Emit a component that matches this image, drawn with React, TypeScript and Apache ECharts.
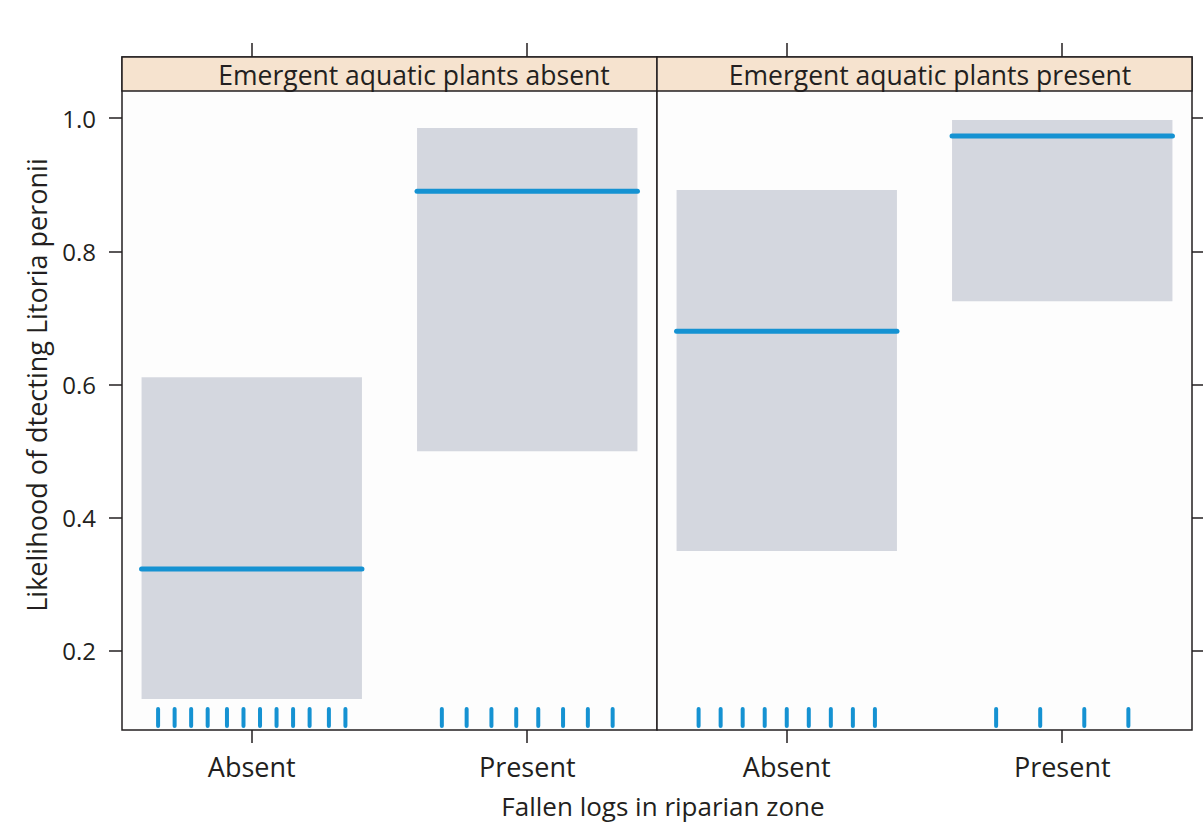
import React, { useEffect, useRef } from "react";
import * as echarts from "echarts";

// ---- data ----
const categories = ["Absent", "Present"];
const panelTitles = ["Emergent aquatic plants absent", "Emergent aquatic plants present"];
const yTicks = [0.2, 0.4, 0.6, 0.8, 1.0];

// panel 1: emergent aquatic plants absent
const fitPlantsAbsent = [0.323, 0.89];
const lowerPlantsAbsent = [0.128, 0.5];
const upperPlantsAbsent = [0.611, 0.985];
const rugPlantsAbsent = [
  0.66, 0.72, 0.78, 0.84, 0.91, 0.97, 1.03, 1.09, 1.15, 1.21, 1.28, 1.34,
  1.69, 1.78, 1.87, 1.96, 2.04, 2.13, 2.22, 2.31,
];

// panel 2: emergent aquatic plants present
const fitPlantsPresent = [0.68, 0.973];
const lowerPlantsPresent = [0.35, 0.725];
const upperPlantsPresent = [0.892, 0.997];
const rugPlantsPresent = [
  0.68, 0.76, 0.84, 0.92, 1.0, 1.08, 1.16, 1.24, 1.32,
  1.76, 1.92, 2.08, 2.24,
];

const xTitle = "Fallen logs in riparian zone";
const yTitle = "Likelihood of dtecting Litoria peronii";

// ---- layout / style ----
const FONT = "'Open Sans', sans-serif";
const TXT = "#231f20";
const BLUE = "#1592d2";
const BAND = "#d4d7df";
const STRIP = "#f6e3cf";
const X_MIN = 0.529;
const X_MAX = 2.471;
const Y_MIN = 0.0814;
const Y_MAX = 1.0916;
const PANEL_LEFT = [122, 657];
const STRIP_TEXT_X = [414, 930];
const PANEL_W = 535;
const TOP = 57;
const H = 673;
const STRIP_H = 34;
const HALF = 0.4;

function bandSeries(ax: number, lower: number[], upper: number[]) {
  return {
    type: "custom",
    xAxisIndex: ax * 2,
    yAxisIndex: ax,
    data: categories.map((_, i) => [i + 1, lower[i], upper[i]]),
    renderItem: (params: any, api: any) => {
      const x = api.value(0);
      const p1 = api.coord([x - HALF, api.value(2)]);
      const p2 = api.coord([x + HALF, api.value(1)]);
      return {
        type: "rect",
        shape: { x: p1[0], y: p1[1], width: p2[0] - p1[0], height: p2[1] - p1[1] },
        style: { fill: BAND },
      };
    },
  };
}

function fitSeries(ax: number, fit: number[]) {
  return {
    type: "custom",
    xAxisIndex: ax * 2,
    yAxisIndex: ax,
    z: 3,
    data: categories.map((_, i) => [i + 1, fit[i]]),
    renderItem: (params: any, api: any) => {
      const x = api.value(0);
      const p1 = api.coord([x - HALF, api.value(1)]);
      const p2 = api.coord([x + HALF, api.value(1)]);
      return {
        type: "line",
        shape: { x1: p1[0], y1: p1[1], x2: p2[0], y2: p2[1] },
        style: { stroke: BLUE, lineWidth: 5, lineCap: "round" },
      };
    },
  };
}

function rugSeries(ax: number, rug: number[]) {
  return {
    type: "custom",
    xAxisIndex: ax * 2,
    yAxisIndex: ax,
    z: 3,
    data: rug.map((v) => [v, Y_MIN]),
    renderItem: (params: any, api: any) => {
      const p = api.coord([api.value(0), api.value(1)]);
      return {
        type: "line",
        shape: { x1: p[0], y1: p[1] - 4, x2: p[0], y2: p[1] - 21 },
        style: { stroke: BLUE, lineWidth: 4, lineCap: "round" },
      };
    },
  };
}

function xAxes(gi: number) {
  const tick = { color: TXT, width: 1.5 };
  return [
    {
      type: "value",
      gridIndex: gi,
      position: "bottom",
      min: X_MIN,
      max: X_MAX,
      axisLine: { show: false },
      splitLine: { show: false },
      axisTick: { show: true, customValues: [1, 2], length: 13, lineStyle: tick },
      axisLabel: {
        customValues: [1, 2],
        formatter: (v: number) => categories[Math.round(v) - 1],
        fontSize: 27,
        fontFamily: FONT,
        color: TXT,
        margin: 23,
      },
    },
    {
      type: "value",
      gridIndex: gi,
      position: "top",
      min: X_MIN,
      max: X_MAX,
      axisLine: { show: false },
      splitLine: { show: false },
      axisTick: { show: true, customValues: [1, 2], length: 14, lineStyle: tick },
      axisLabel: { show: false },
    },
  ];
}

export default function App() {
  const ref = useRef<HTMLDivElement>(null);
  useEffect(() => {
    if (!ref.current) return;
    const chart = echarts.init(ref.current, null, { renderer: "svg" });
    const tick = { color: TXT, width: 1.5 };
    const graphics: any[] = [];
    panelTitles.forEach((t, i) => {
      graphics.push({
        type: "rect",
        z: 100,
        shape: { x: PANEL_LEFT[i], y: TOP, width: PANEL_W, height: STRIP_H },
        style: { fill: STRIP, stroke: TXT, lineWidth: 1.5 },
      });
      graphics.push({
        type: "text",
        z: 101,
        x: STRIP_TEXT_X[i],
        y: TOP + STRIP_H / 2 + 1,
        style: {
          text: t,
          align: "center",
          verticalAlign: "middle",
          fontSize: 26.5,
          fontFamily: FONT,
          fill: TXT,
        },
      });
    });
    graphics.push({
      type: "text",
      z: 101,
      x: 36,
      y: 385,
      rotation: Math.PI / 2,
      style: {
        text: yTitle,
        align: "center",
        verticalAlign: "middle",
        fontSize: 27,
        fontFamily: FONT,
        fill: TXT,
      },
    });
    graphics.push({
      type: "text",
      z: 101,
      x: 663,
      y: 806,
      style: {
        text: xTitle,
        align: "center",
        verticalAlign: "middle",
        fontSize: 26,
        fontFamily: FONT,
        fill: TXT,
      },
    });

    chart.setOption({
      animation: false,
      backgroundColor: "#ffffff",
      grid: PANEL_LEFT.map((l) => ({
        left: l,
        top: TOP,
        width: PANEL_W,
        height: H,
        show: true,
        borderColor: TXT,
        borderWidth: 1.5,
        backgroundColor: "#fdfdfd",
      })),
      xAxis: [...xAxes(0), ...xAxes(1)],
      yAxis: [
        {
          type: "value",
          gridIndex: 0,
          position: "left",
          min: Y_MIN,
          max: Y_MAX,
          axisLine: { show: false },
          splitLine: { show: false },
          axisTick: { show: true, customValues: yTicks, length: 13, lineStyle: tick },
          axisLabel: {
            customValues: yTicks,
            formatter: (v: number) => v.toFixed(1),
            fontSize: 24,
            fontFamily: FONT,
            color: TXT,
            margin: 26,
          },
        },
        {
          type: "value",
          gridIndex: 1,
          position: "right",
          min: Y_MIN,
          max: Y_MAX,
          axisLine: { show: false },
          splitLine: { show: false },
          axisTick: { show: true, customValues: yTicks, length: 11, lineStyle: tick },
          axisLabel: { show: false },
        },
      ],
      graphic: graphics,
      series: [
        bandSeries(0, lowerPlantsAbsent, upperPlantsAbsent),
        fitSeries(0, fitPlantsAbsent),
        rugSeries(0, rugPlantsAbsent),
        bandSeries(1, lowerPlantsPresent, upperPlantsPresent),
        fitSeries(1, fitPlantsPresent),
        rugSeries(1, rugPlantsPresent),
      ],
    });
    return () => chart.dispose();
  }, []);
  return (
    <div
      ref={ref}
      style={{ position: "fixed", left: 0, top: 0, width: 1203, height: 825 }}
    />
  );
}
